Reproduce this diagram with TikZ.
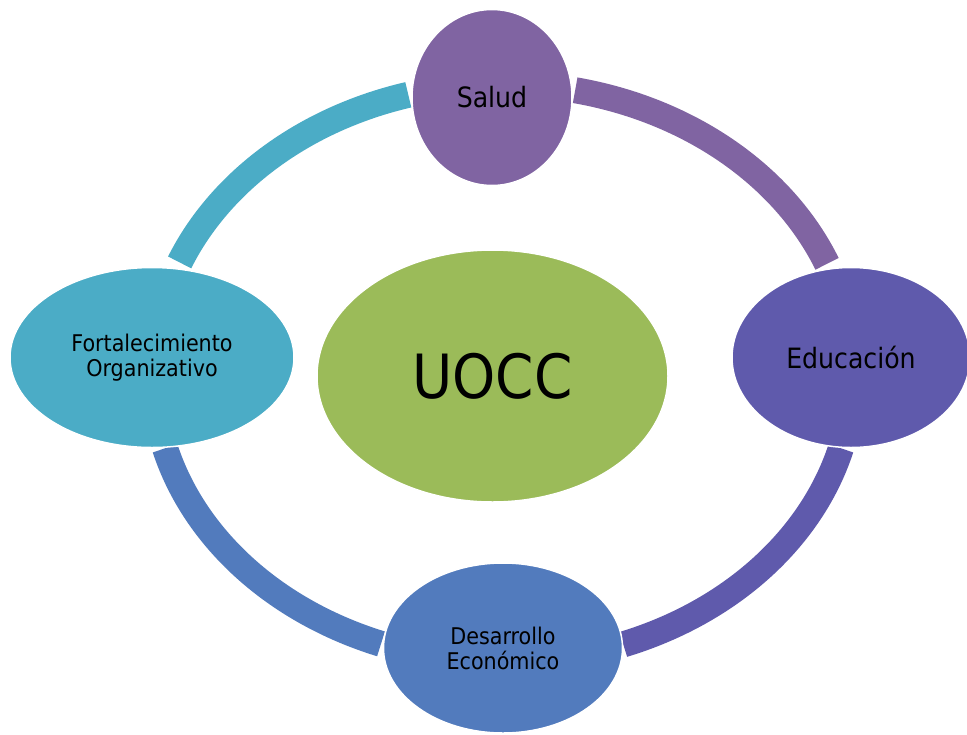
\documentclass[tikz,border=0pt]{standalone}
\usepackage{fontspec}
\setmainfont{DejaVu Sans Condensed}
\usetikzlibrary{shapes.geometric}
\definecolor{cpurple}{HTML}{8064A2}
\definecolor{cindigo}{HTML}{5F5AAC}
\definecolor{cblue}{HTML}{527BBD}
\definecolor{cteal}{HTML}{4BACC6}
\definecolor{cgreen}{HTML}{9BBB59}
\tikzset{
  ringarc/.style={line width=26pt, line cap=butt},
  bubble/.style={ellipse, draw=white, line width=1.5pt, inner sep=0pt, align=center, text=black},
  bigtxt/.style={font=\fontsize{28}{30}\selectfont},
  smalltxt/.style={font=\fontsize{23}{25}\selectfont},
}
\begin{document}
\begin{tikzpicture}[x=1pt,y=-1pt]
\clip (0,0) rectangle (967,734);
\fill[white] (0,0) rectangle (967,734);
\coordinate (ring) at (503,373);
% arc end points on the ring
\path (ring) ++(202.5:350 and 289) coordinate (tealA);
\path (ring) ++(281.9:350 and 289) coordinate (purpA);
\path (ring) ++(15.1:350 and 289) coordinate (indA);
\path (ring) ++(110.4:350 and 289) coordinate (blueA);
% arcs
\draw[ringarc, cteal] (tealA) arc[start angle=202.5, end angle=254.3, x radius=350, y radius=289];
\draw[ringarc, cpurple] (purpA) arc[start angle=281.9, end angle=337.8, x radius=350, y radius=289];
\draw[ringarc, cindigo] (indA) arc[start angle=15.1, end angle=69.9, x radius=350, y radius=289];
\draw[ringarc, cblue] (blueA) arc[start angle=110.4, end angle=164.9, x radius=350, y radius=289];
% nodes
\node[bubble, fill=cpurple, minimum width=160pt, minimum height=176pt, bigtxt] (salud) at (492,97.5) {Salud};
\node[bubble, fill=cindigo, minimum width=238pt, minimum height=180pt, bigtxt] (edu) at (851,357.5) {Educación};
\node[bubble, fill=cblue, minimum width=239pt, minimum height=170pt, smalltxt] (des) at (503,648) {Desarrollo\\Económico};
\node[bubble, fill=cteal, minimum width=284pt, minimum height=180pt, smalltxt] (fort) at (152,357.5) {Fortalecimiento\\Organizativo};
\node[bubble, fill=cgreen, minimum width=351pt, minimum height=252pt, font=\fontsize{61}{64}\selectfont] (uocc) at (492.5,376) {UOCC};
\end{tikzpicture}
\end{document}
